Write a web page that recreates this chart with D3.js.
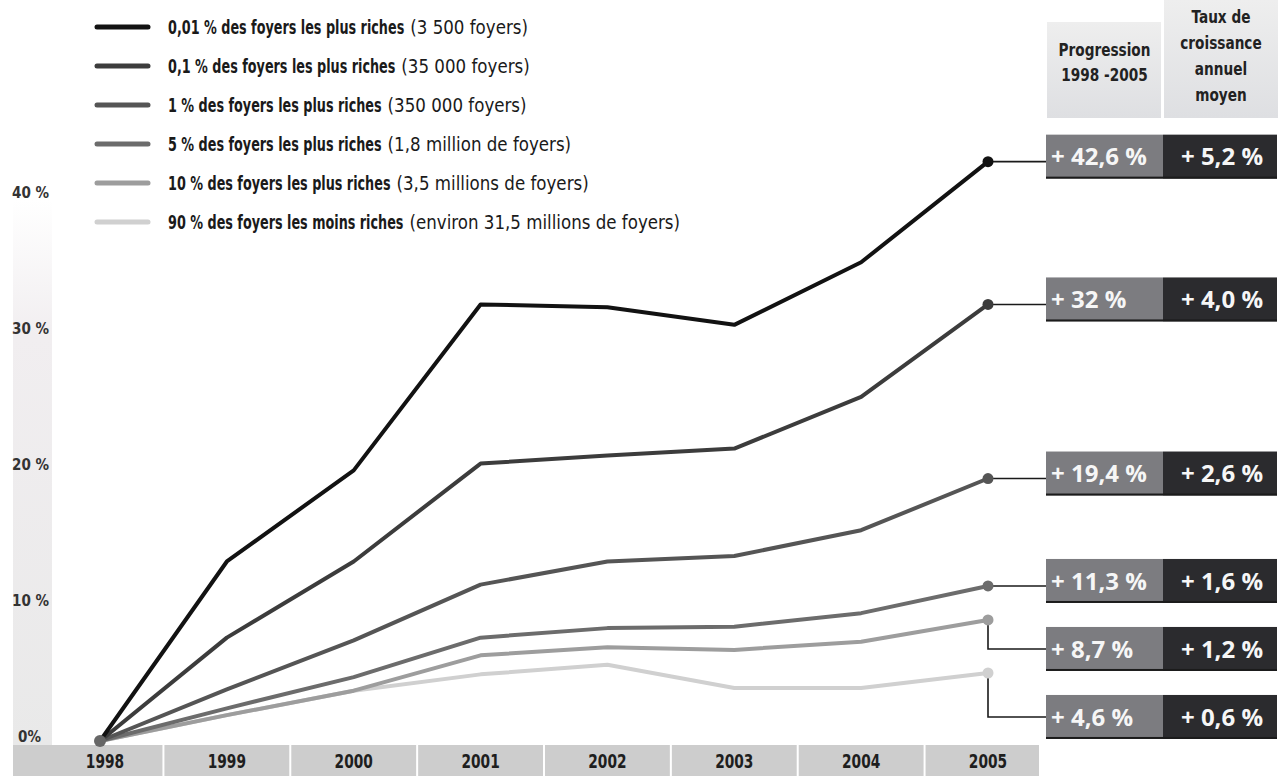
<!DOCTYPE html>
<html>
<head>
<meta charset="utf-8">
<script src="https://cdn.jsdelivr.net/npm/d3@7"></script>
<style>
body { margin: 0; background: #fff; }
svg { display: block; }
.narrow { font-family: "Liberation Sans Narrow", "DejaVu Sans Condensed", sans-serif; font-stretch: condensed; }
.wide { font-family: "Open Sans", "Noto Sans", sans-serif; }
</style>
</head>
<body>
<div id="chart"></div>
<script>
const years = ["1998", "1999", "2000", "2001", "2002", "2003", "2004", "2005"];

const legendMain = [
  "0,01 % des foyers les plus riches",
  "0,1 % des foyers les plus riches",
  "1 % des foyers les plus riches",
  "5 % des foyers les plus riches",
  "10 % des foyers les plus riches",
  "90 % des foyers les moins riches"
];
const legendNote = [
  "(3 500 foyers)",
  "(35 000 foyers)",
  "(350 000 foyers)",
  "(1,8 million de foyers)",
  "(3,5 millions de foyers)",
  "(environ 31,5 millions de foyers)"
];

// cumulative income growth since 1998, in %
const top001 = [0, 13.2, 19.9, 32.1, 31.9, 30.6, 35.2, 42.6];
const top01 = [0, 7.6, 13.2, 20.4, 21.0, 21.5, 25.3, 32.1];
const top1 = [0, 3.8, 7.4, 11.5, 13.2, 13.6, 15.5, 19.3];
const top5 = [0, 2.4, 4.7, 7.6, 8.3, 8.4, 9.4, 11.4];
const top10 = [0, 1.9, 3.7, 6.3, 6.9, 6.7, 7.3, 8.9];
const bottom90 = [0, 1.9, 3.7, 4.9, 5.6, 3.9, 3.9, 5.0];

const progression = [42.6, 32, 19.4, 11.3, 8.7, 4.6];
const growth = [5.2, 4.0, 2.6, 1.6, 1.2, 0.6];

const yTicks = [0, 10, 20, 30, 40];

const series = [top001, top01, top1, top5, top10, bottom90];
const colors = ["#121212", "#3c3c3c", "#555555", "#6c6c6c", "#9d9d9d", "#d0d0d0"];

const width = 1279, height = 776;

const svg = d3.select("#chart").append("svg")
  .attr("width", width)
  .attr("height", height);

const defs = svg.append("defs");
const g1 = defs.append("linearGradient").attr("id", "band").attr("x1", 0).attr("x2", 0).attr("y1", 0).attr("y2", 1);
g1.append("stop").attr("offset", "0%").attr("stop-color", "#ffffff");
g1.append("stop").attr("offset", "25%").attr("stop-color", "#f1eef0");
g1.append("stop").attr("offset", "100%").attr("stop-color", "#e9e9e9");
const g2 = defs.append("linearGradient").attr("id", "head").attr("x1", 0).attr("x2", 0).attr("y1", 0).attr("y2", 1);
g2.append("stop").attr("offset", "0%").attr("stop-color", "#eeeeee");
g2.append("stop").attr("offset", "100%").attr("stop-color", "#dedfe2");

const x = d3.scalePoint().domain(years).range([100, 988]);
const y = d3.scaleLinear().domain([0, 40]).range([741, 197]);

// faint band behind y labels
svg.append("rect")
  .attr("x", 13).attr("y", 200).attr("width", 39).attr("height", 545)
  .attr("fill", "url(#band)");

// y labels
svg.append("g").attr("class", "narrow")
  .selectAll("text")
  .data(yTicks)
  .enter()
  .append("text")
  .attr("x", d => d === 0 ? 18 : 12)
  .attr("y", d => y(d) - 4)
  .attr("dy", "0.35em")
  .attr("font-size", 15)
  .attr("font-weight", "bold")
  .attr("fill", "#333")
  .text(d => d === 0 ? "0%" : d + " %");

// x axis bar
const xs = years.map(d => x(d));
const cells = years.map((d, i) => ({
  year: d,
  x0: i === 0 ? 12 : (xs[i - 1] + xs[i]) / 2,
  x1: i === years.length - 1 ? 1040 : (xs[i] + xs[i + 1]) / 2
}));

svg.append("g")
  .selectAll("rect")
  .data(cells)
  .enter()
  .append("rect")
  .attr("x", d => d.x0 + 1)
  .attr("y", 745)
  .attr("width", d => d.x1 - d.x0 - 2)
  .attr("height", 31)
  .attr("fill", "#cdcdcd");

svg.append("g").attr("class", "narrow")
  .selectAll("text")
  .data(years)
  .enter()
  .append("text")
  .attr("transform", d => `translate(${x(d) + (d === "1998" ? 5 : 0)},761) scale(0.9,1.1)`)
  .attr("dy", "0.35em")
  .attr("text-anchor", "middle")
  .attr("font-size", 17)
  .attr("font-weight", "bold")
  .attr("fill", "#1e1e1e")
  .text(d => d);

// lines
const line = d3.line()
  .x((d, i) => x(years[i]))
  .y(d => y(d));

svg.append("g")
  .selectAll("path")
  .data(series.slice().reverse())
  .enter()
  .append("path")
  .attr("d", d => line(d))
  .attr("fill", "none")
  .attr("stroke", (d, i) => colors[series.length - 1 - i])
  .attr("stroke-width", 4)
  .attr("stroke-linejoin", "round")
  .attr("stroke-linecap", "round");

// origin dot
svg.append("circle")
  .attr("cx", x("1998")).attr("cy", y(0)).attr("r", 6)
  .attr("fill", "#676767");

// box layout derived from end points
const boxH = 44, step = 68;
const endY = series.map(s => y(s[s.length - 1]));
const boxC = [];
endY.forEach((v, i) => {
  let c = v - 5;
  if (i > 0 && c < boxC[i - 1] + step) c = boxC[i - 1] + step;
  boxC.push(c);
});

const xEnd = x("2005");
const boxL = 1046, boxM = 1163, boxR = 1277;

svg.append("g")
  .selectAll("path")
  .data(endY)
  .enter()
  .append("path")
  .attr("d", (v, i) => {
    const c = boxC[i];
    if (v > c - boxH / 2 + 4 && v < c + boxH / 2 - 4) return `M${xEnd},${v}H${boxL}`;
    return `M${xEnd},${v}V${c}H${boxL}`;
  })
  .attr("fill", "none")
  .attr("stroke", "#1a1a1a")
  .attr("stroke-width", 1.6);

svg.append("g")
  .selectAll("circle")
  .data(endY)
  .enter()
  .append("circle")
  .attr("cx", xEnd)
  .attr("cy", d => d)
  .attr("r", 5.5)
  .attr("fill", (d, i) => colors[i]);

// table header
const head = svg.append("g").attr("class", "narrow");
head.append("rect").attr("x", boxL + 1).attr("y", 22).attr("width", boxM - boxL - 3).attr("height", 96).attr("fill", "url(#head)");
head.append("rect").attr("x", boxM + 1).attr("y", 0).attr("width", boxR - boxM).attr("height", 118).attr("fill", "url(#head)");

const headLeft = ["Progression", "1998 -2005"];
const headRight = ["Taux de", "croissance", "annuel", "moyen"];
head.selectAll(".hl")
  .data(headLeft)
  .enter()
  .append("text")
  .attr("transform", (d, i) => `translate(${(boxL + boxM) / 2},${50 + i * 25}) scale(0.92,1.12)`)
  .attr("dy", "0.35em")
  .attr("text-anchor", "middle")
  .attr("font-size", 16.5)
  .attr("font-weight", "bold")
  .attr("fill", "#222")
  .text(d => d);
head.selectAll(".hr")
  .data(headRight)
  .enter()
  .append("text")
  .attr("transform", (d, i) => `translate(${(boxM + boxR) / 2 + 1},${17 + i * 26}) scale(0.92,1.12)`)
  .attr("dy", "0.35em")
  .attr("text-anchor", "middle")
  .attr("font-size", 16.5)
  .attr("font-weight", "bold")
  .attr("fill", "#222")
  .text(d => d);

// value boxes
const fmt = v => "+ " + (Number.isInteger(v) ? String(v) : v.toFixed(1)).replace(".", ",") + " %";
const fmt1 = v => "+ " + v.toFixed(1).replace(".", ",") + " %";

const rows = svg.append("g").attr("class", "wide")
  .selectAll("g")
  .data(progression)
  .enter()
  .append("g")
  .attr("transform", (d, i) => `translate(0,${boxC[i] - boxH / 2})`);

rows.append("rect").attr("x", boxL).attr("y", 0).attr("width", boxM - boxL).attr("height", boxH).attr("fill", "#7c7c80");
rows.append("rect").attr("x", boxM).attr("y", 0).attr("width", boxR - boxM).attr("height", boxH).attr("fill", "#2b2b2e");
rows.append("rect").attr("x", boxL).attr("y", boxH - 2).attr("width", boxR - boxL).attr("height", 2).attr("fill", "#1b1b1b");

rows.append("text")
  .attr("x", boxL + 5)
  .attr("y", boxH / 2)
  .attr("dy", "0.36em")
  .attr("font-size", 24)
  .attr("font-weight", "bold")
  .attr("fill", "#f6f6f6")
  .text(d => fmt(d));

rows.append("text")
  .attr("x", (boxM + boxR) / 2 + 2)
  .attr("y", boxH / 2)
  .attr("dy", "0.36em")
  .attr("text-anchor", "middle")
  .attr("font-size", 24)
  .attr("font-weight", "bold")
  .attr("fill", "#f6f6f6")
  .text((d, i) => fmt1(growth[i]));

// legend
const legend = svg.append("g").attr("class", "narrow")
  .selectAll("g")
  .data(legendMain)
  .enter()
  .append("g")
  .attr("transform", (d, i) => `translate(0,${27 + i * 39})`);

legend.append("line")
  .attr("x1", 97).attr("x2", 148)
  .attr("stroke", (d, i) => colors[i])
  .attr("stroke-width", 5)
  .attr("stroke-linecap", "round");

const boldScale = 0.79, noteScale = 1.03;
legend.each(function(d, i) {
  const g = d3.select(this);
  const b = g.append("text")
    .attr("transform", `translate(168,0) scale(${boldScale},1.08)`)
    .attr("dy", "0.35em")
    .attr("font-size", 18)
    .attr("font-weight", "bold")
    .attr("fill", "#1a1a1a")
    .text(d);
  const w = b.node().getComputedTextLength() * boldScale;
  g.append("text")
    .attr("transform", `translate(${168 + w + 6},0) scale(${noteScale},1.08)`)
    .attr("dy", "0.35em")
    .attr("font-size", 18)
    .attr("fill", "#1a1a1a")
    .text(legendNote[i]);
});
</script>
</body>
</html>
